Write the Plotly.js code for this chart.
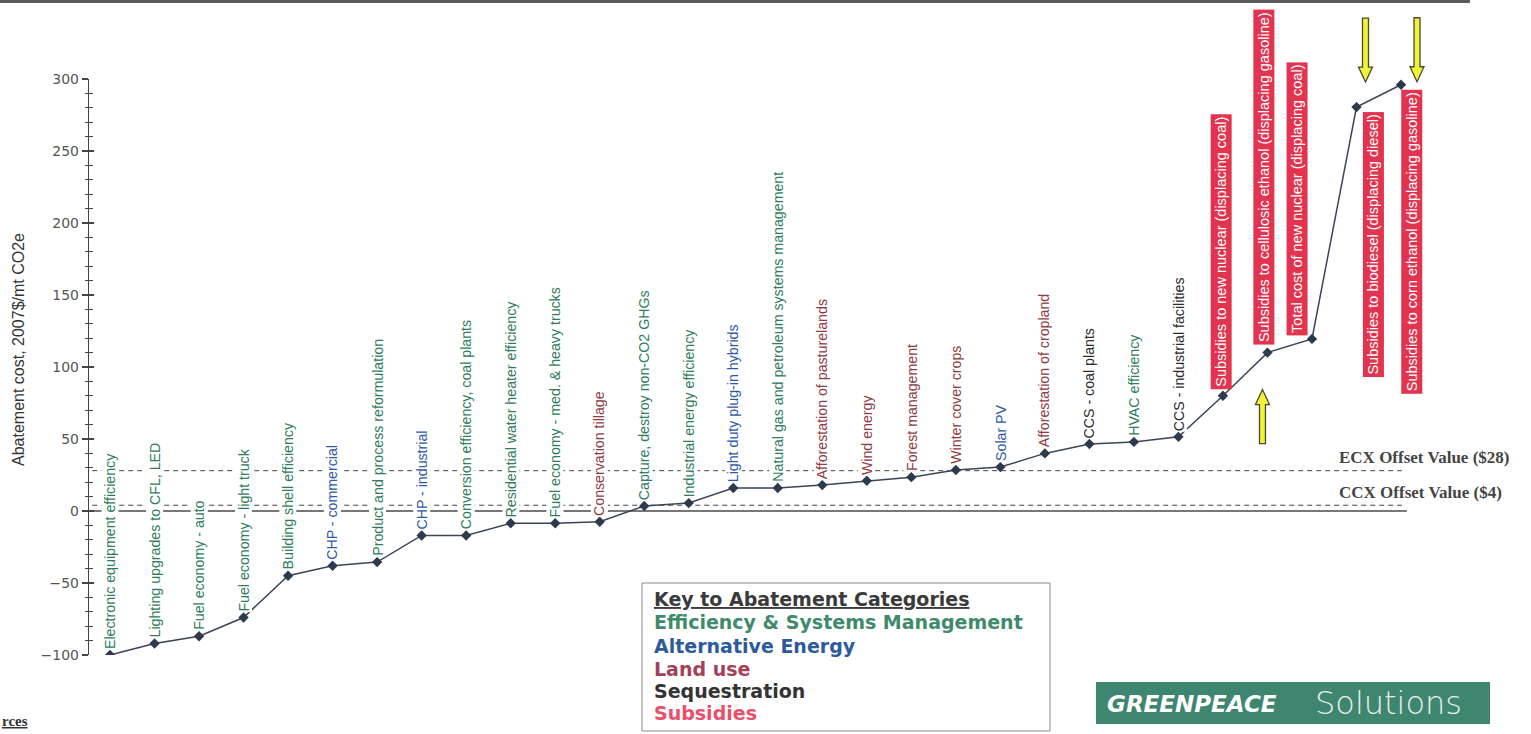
<!DOCTYPE html>
<html>
<head>
<meta charset="utf-8">
<script src="https://cdn.plot.ly/plotly-3.0.1.min.js"></script>
<style>
  html, body { margin: 0; padding: 0; background: #ffffff; }
  #chart { width: 1531px; height: 734px; }
</style>
</head>
<body>
<div id="chart"></div>
<script>
// ---------- DATA ----------
const categories = [
  "Electronic equipment efficiency",
  "Lighting upgrades to CFL, LED",
  "Fuel economy - auto",
  "Fuel economy - light truck",
  "Building shell efficiency",
  "CHP - commercial",
  "Product and process reformulation",
  "CHP - industrial",
  "Conversion efficiency, coal plants",
  "Residential water heater efficiency",
  "Fuel economy - med. & heavy trucks",
  "Conservation tillage",
  "Capture, destroy non-CO2 GHGs",
  "Industrial energy efficiency",
  "Light duty plug-in hybrids",
  "Natural gas and petroleum systems management",
  "Afforestation of pasturelands",
  "Wind energy",
  "Forest management",
  "Winter cover crops",
  "Solar PV",
  "Afforestation of cropland",
  "CCS - coal plants",
  "HVAC efficiency",
  "CCS - industrial facilities",
  "Subsidies to new nuclear (displacing coal)",
  "Subsidies to cellulosic ethanol (displacing gasoline)",
  "Total cost of new nuclear (displacing coal)",
  "Subsidies to biodiesel (displacing diesel)",
  "Subsidies to corn ethanol (displacing gasoline)"
];
const abatementCost = [
  -100, -92, -87, -74, -45, -38, -35.5, -17, -17, -8.5,
  -8.5, -7.5, 3.5, 5.5, 16, 16, 18, 21, 23.5, 28.5,
  30.5, 40, 46.5, 48, 51.5, 80, 110, 119.5, 280.5, 296
];
const categoryGroup = [
  "eff","eff","eff","eff","eff","alt","eff","alt","eff","eff",
  "eff","land","eff","eff","alt","eff","land","land","land","land",
  "alt","land","seq","eff","seq","sub","sub","sub","sub","sub"
];
const offsetValues = [28, 4];
const offsetLabels = ["ECX Offset Value ($28)", "CCX Offset Value ($4)"];
const keyTitle = "Key to Abatement Categories";
const keyGroups = ["eff", "alt", "land", "seq", "sub"];
const keyLabels = ["Efficiency & Systems Management", "Alternative Energy", "Land use", "Sequestration", "Subsidies"];
const yTitle = "Abatement cost, 2007$/mt CO2e";

// ---------- STYLE ----------
const groupColor = { eff: "#2e7d5c", alt: "#2c5aa6", land: "#8f3b42", seq: "#2b2b2b", sub: "#ffffff" };
const keyColor = { eff: "#3f8a6c", alt: "#2d5a9a", land: "#a3405a", seq: "#333333", sub: "#e8506b" };
const sans = "Liberation Sans, Arial, sans-serif";
const wide = "DejaVu Sans, Verdana, sans-serif";
const serif = "Liberation Serif, Times New Roman, serif";

const W = 1531, H = 734;
const M = { l: 89, r: 101, t: 79, b: 79 };
const plotW = W - M.l - M.r, plotH = H - M.t - M.b;
const px2x = px => (px - M.l) / plotW;
const py2y = py => (H - M.b - py) / plotH;

const xIdx = categories.map((_, i) => i + 1);
const xRange = [0.528, 30.651];
const yRange = [-100, 300];
const d2px = x => (x - xRange[0]) / (xRange[1] - xRange[0]);   // data -> paper
const d2py = y => (y - yRange[0]) / (yRange[1] - yRange[0]);

// ---------- TRACES ----------
const traces = [{
  x: xIdx,
  y: abatementCost,
  type: "scatter",
  mode: "lines+markers",
  line: { color: "#3a4558", width: 1.5 },
  marker: { symbol: "diamond", size: 8, color: "#2c3a4e" },
  hoverinfo: "skip",
  showlegend: false
}, {
  x: [xIdx[0]], y: [abatementCost[0]], yaxis: "y2", type: "scatter", mode: "markers",
  marker: { opacity: 0 }, hoverinfo: "skip", showlegend: false
}];

// ---------- ANNOTATIONS ----------
const annotations = [];
categories.forEach((name, i) => {
  const g = categoryGroup[i];
  const a = {
    x: xIdx[i], y: abatementCost[i], xref: "x", yref: "y",
    text: name, textangle: -90, showarrow: false,
    xanchor: "center", yanchor: "bottom", yshift: 5,
    font: { family: sans, size: 14.2, color: groupColor[g] },
    bgcolor: "#ffffff", borderpad: 0
  };
  if (g === "sub") {
    a.bgcolor = "#e2334f";
    a.borderpad = 2;
    a.font.color = "#ffffff";
    a.font.size = 14.5;
  }
  annotations.push(a);
});
// subsidy label placement tweaks (relative offsets, px)
annotations[25].xshift = -2; annotations[25].yshift = 6;
annotations[26].xshift = -4; annotations[26].yshift = 8;
annotations[27].xshift = -15; annotations[27].yshift = 3;
annotations[28].xshift = 17; annotations[28].yanchor = "top"; annotations[28].yshift = -5;
annotations[29].xshift = 11; annotations[29].yanchor = "top"; annotations[29].yshift = -5;

offsetValues.forEach((v, i) => {
  annotations.push({
    x: 28.56, y: v, xref: "x", yref: "y", text: "<b>" + offsetLabels[i] + "</b>",
    showarrow: false, xanchor: "left", yanchor: "middle", yshift: 13,
    font: { family: serif, size: 17, color: "#444444" }
  });
});

// y axis title
annotations.push({
  x: px2x(18), y: py2y(350), xref: "paper", yref: "paper", text: yTitle, textangle: -90,
  showarrow: false, xanchor: "center", yanchor: "middle",
  font: { family: sans, size: 16, color: "#333333" }
});

// key box text
const keyY = [599, 622, 646, 669, 691, 713];
annotations.push({
  x: px2x(652), y: py2y(keyY[0]), xref: "paper", yref: "paper",
  text: "<b><u>" + keyTitle + "</u></b>", showarrow: false, xanchor: "left", yanchor: "middle",
  font: { family: wide, size: 19, color: "#3a3a3a" }
});
keyLabels.forEach((lab, i) => {
  annotations.push({
    x: px2x(652), y: py2y(keyY[i + 1]), xref: "paper", yref: "paper",
    text: "<b>" + lab + "</b>", showarrow: false, xanchor: "left", yanchor: "middle",
    font: { family: wide, size: 19, color: keyColor[keyGroups[i]] }
  });
});

// logo text
annotations.push({
  x: px2x(1192), y: py2y(704), xref: "paper", yref: "paper",
  text: "<b><i>GREENPEACE</i></b>", showarrow: false, xanchor: "center", yanchor: "middle",
  font: { family: "DejaVu Sans, sans-serif", size: 23, color: "#ffffff" }
});
annotations.push({
  x: px2x(1388), y: py2y(703), xref: "paper", yref: "paper",
  text: "Solutions", showarrow: false, xanchor: "center", yanchor: "middle",
  font: { family: "DejaVu Sans ExtraLight, DejaVu Sans, sans-serif", size: 32, color: "#e6f0eb", weight: 200 }
});

// sources fragment
annotations.push({
  x: px2x(0), y: py2y(721), xref: "paper", yref: "paper",
  text: "<b><u>rces</u></b>", showarrow: false, xanchor: "left", yanchor: "middle",
  font: { family: serif, size: 15, color: "#333333" }
});

// ---------- SHAPES ----------
function arrowPath(tx, ty, len, dir) {
  // dir = 1 : pointing up, -1 : pointing down (pixel offsets, up positive)
  const hw = 7, sw = 3, hl = 15;
  const s = -dir;
  const pts = [
    [tx, ty], [tx + hw, ty + s * hl], [tx + sw, ty + s * hl], [tx + sw, ty + s * len],
    [tx - sw, ty + s * len], [tx - sw, ty + s * hl], [tx - hw, ty + s * hl]
  ];
  return "M" + pts.map(p => p[0] + "," + p[1]).join(" L") + " Z";
}
function arrowShape(i, tx, ty, len, dir) {
  return {
    type: "path", xref: "paper", yref: "paper", xsizemode: "pixel", ysizemode: "pixel",
    xanchor: d2px(xIdx[i]), yanchor: d2py(abatementCost[i]), path: arrowPath(tx, ty, len, dir),
    fillcolor: "#f2f23a", line: { color: "#4a4a30", width: 1.3 }
  };
}

const shapes = [
  // zero line
  { type: "line", xref: "x", yref: "y", x0: xRange[0], x1: 30.13, y0: 0, y1: 0,
    line: { color: "#4a4a4a", width: 1.5 }, layer: "below" },
  // offset lines
  ...offsetValues.map(v => ({
    type: "line", xref: "x", yref: "y", x0: 0.6, x1: 30.02, y0: v, y1: v,
    line: { color: "#444444", width: 1, dash: "5px,4px" }, layer: "below"
  })),
  // arrows
  arrowShape(26, -5, -37, 54, 1),
  arrowShape(28, 9, 25, 64, -1),
  arrowShape(29, 16, 3, 64, -1),
  // key box
  { type: "rect", xref: "paper", yref: "paper", x0: px2x(642), x1: px2x(1050), y0: py2y(731), y1: py2y(583),
    fillcolor: "#ffffff", line: { color: "#8a8a8a", width: 1 }, layer: "below" },
  // logo box
  { type: "rect", xref: "paper", yref: "paper", x0: px2x(1096), x1: px2x(1490), y0: py2y(724), y1: py2y(682),
    fillcolor: "#3e8670", line: { width: 0 }, layer: "below" },
  // top rule
  { type: "line", xref: "paper", yref: "paper", x0: px2x(0), x1: px2x(1470), y0: py2y(1.5), y1: py2y(1.5),
    line: { color: "#5a5a5a", width: 3 } }
];

// ---------- LAYOUT ----------
const layout = {
  width: W, height: H,
  margin: M,
  paper_bgcolor: "#ffffff", plot_bgcolor: "#ffffff",
  showlegend: false,
  xaxis: { range: xRange, visible: false, fixedrange: true },
  yaxis: {
    range: yRange, tick0: 0, dtick: 50,
    showgrid: false, zeroline: false,
    showline: true, linecolor: "#444444", linewidth: 1.2,
    ticks: "outside", ticklen: 6, tickwidth: 1.2, tickcolor: "#444444",
    minor: { dtick: 10, ticks: "outside", ticklen: 3, tickwidth: 1, tickcolor: "#444444", showgrid: false },
    tickfont: { family: wide, size: 14, color: "#555555" },
    fixedrange: true
  },
  yaxis2: {
    range: yRange, overlaying: "y", side: "left", tick0: 0, dtick: 50,
    showgrid: false, zeroline: false, showline: false, showticklabels: false,
    ticks: "inside", ticklen: 5, tickwidth: 1.2, tickcolor: "#444444",
    minor: { dtick: 10, ticks: "inside", ticklen: 4, tickwidth: 1, tickcolor: "#444444", showgrid: false },
    fixedrange: true
  },
  annotations: annotations,
  shapes: shapes
};

Plotly.newPlot("chart", traces, layout, { displayModeBar: false, staticPlot: true });
</script>
</body>
</html>
